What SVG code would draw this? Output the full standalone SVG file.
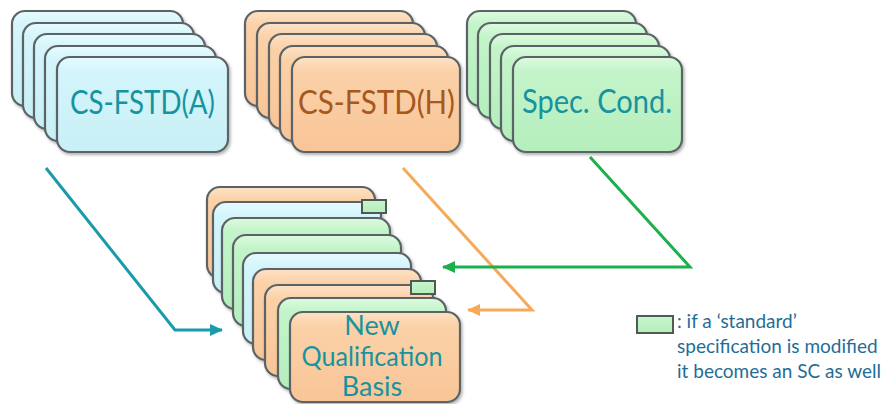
<svg xmlns="http://www.w3.org/2000/svg" width="887" height="404" viewBox="0 0 887 404">
<defs>
  <linearGradient id="gBlue" x1="0" y1="0" x2="0" y2="1">
    <stop offset="0" stop-color="#e6fbfe"/><stop offset="0.15" stop-color="#d3f5fb"/><stop offset="1" stop-color="#c8f0f6"/>
  </linearGradient>
  <linearGradient id="gOrange" x1="0" y1="0" x2="0" y2="1">
    <stop offset="0" stop-color="#fde2c6"/><stop offset="0.15" stop-color="#fbd1a8"/><stop offset="1" stop-color="#f8c597"/>
  </linearGradient>
  <linearGradient id="gGreen" x1="0" y1="0" x2="0" y2="1">
    <stop offset="0" stop-color="#dcfbe0"/><stop offset="0.15" stop-color="#c3f4c9"/><stop offset="1" stop-color="#b5eebd"/>
  </linearGradient>
  <filter id="sh" x="-10%" y="-10%" width="125%" height="130%">
    <feDropShadow dx="1.5" dy="2" stdDeviation="1.5" flood-color="#000" flood-opacity="0.3"/>
  </filter>
  <marker id="aTeal" markerUnits="userSpaceOnUse" markerWidth="14" markerHeight="12" refX="12" refY="6" orient="auto">
    <path d="M0,0 L13,6 L0,12 Z" fill="#1a9aaa"/>
  </marker>
  <marker id="aOrange" markerUnits="userSpaceOnUse" markerWidth="14" markerHeight="12" refX="12" refY="6" orient="auto">
    <path d="M0,0 L13,6 L0,12 Z" fill="#f7a95a"/>
  </marker>
  <marker id="aGreen" markerUnits="userSpaceOnUse" markerWidth="14" markerHeight="12" refX="12" refY="6" orient="auto">
    <path d="M0,0 L13,6 L0,12 Z" fill="#1cb04c"/>
  </marker>
</defs>
<style>
  .card { stroke: #5b6466; stroke-width: 2.2; filter: url(#sh); }
  .b { fill: url(#gBlue); }
  .o { fill: url(#gOrange); }
  .g { fill: url(#gGreen); }
  .lbl { font-family: Lato, "Open Sans", "Liberation Sans", sans-serif; text-anchor: middle; }
  .teal { fill: #17939f; }
  .brown { fill: #a6581e; }
  .legend { font-family: Lato, "Open Sans", "Liberation Sans", sans-serif; font-size: 19px; fill: #1f6d96; }
  .conn { fill: none; stroke-width: 3; stroke-linejoin: miter; }
  .mini { fill: url(#gGreen); stroke: #4f5a55; stroke-width: 2; }
</style>

<g id="stack-cs-fstd-a">
  <rect class="card b" x="12" y="11" width="171" height="95" rx="13"/>
  <rect class="card b" x="23" y="23" width="171" height="95" rx="13"/>
  <rect class="card b" x="34" y="34" width="171" height="95" rx="13"/>
  <rect class="card b" x="45" y="46" width="171" height="95" rx="13"/>
  <rect class="card b" x="57" y="57" width="171" height="95" rx="13"/>
  <text class="lbl teal" x="142.5" y="114" font-size="32" textLength="145" lengthAdjust="spacingAndGlyphs">CS-FSTD(A)</text>
</g>

<g id="stack-cs-fstd-h">
  <rect class="card o" x="245" y="11" width="168" height="95" rx="13"/>
  <rect class="card o" x="257" y="23" width="168" height="95" rx="13"/>
  <rect class="card o" x="269" y="34" width="168" height="95" rx="13"/>
  <rect class="card o" x="280" y="46" width="168" height="95" rx="13"/>
  <rect class="card o" x="292" y="57" width="168" height="95" rx="13"/>
  <text class="lbl brown" x="376.5" y="114" font-size="32" textLength="157" lengthAdjust="spacingAndGlyphs">CS-FSTD(H)</text>
</g>

<g id="stack-spec-cond">
  <rect class="card g" x="467" y="11" width="169" height="95" rx="13"/>
  <rect class="card g" x="478" y="23" width="169" height="95" rx="13"/>
  <rect class="card g" x="490" y="34" width="169" height="95" rx="13"/>
  <rect class="card g" x="501" y="46" width="169" height="95" rx="13"/>
  <rect class="card g" x="513" y="57" width="169" height="95" rx="13"/>
  <text class="lbl teal" x="597" y="113" font-size="32" textLength="150" lengthAdjust="spacingAndGlyphs">Spec. Cond.</text>
</g>

<g id="stack-new-qualification-basis">
  <rect class="card o" x="207" y="187" width="168" height="91" rx="13"/>
  <rect class="card b" x="213" y="202" width="168" height="91" rx="13"/>
  <rect class="mini" x="362" y="200" width="24" height="13"/>
  <rect class="card g" x="222" y="218" width="168" height="91" rx="13"/>
  <rect class="card g" x="233" y="235" width="168" height="91" rx="13"/>
  <rect class="card b" x="243" y="253" width="168" height="91" rx="13"/>
  <rect class="card o" x="253" y="269" width="168" height="91" rx="13"/>
  <rect class="card o" x="265" y="285" width="168" height="91" rx="13"/>
  <rect class="mini" x="411" y="281" width="24" height="13"/>
  <rect class="card g" x="278" y="298" width="168" height="91" rx="13"/>
  <rect class="card o" x="290" y="312" width="170" height="90" rx="13"/>
  <text class="lbl teal" x="372" y="335" font-size="27">New</text>
  <text class="lbl teal" x="372" y="366" font-size="27" textLength="141" lengthAdjust="spacingAndGlyphs">Qualification</text>
  <text class="lbl teal" x="372" y="396" font-size="27">Basis</text>
</g>

<g id="connectors">
  <path class="conn" stroke="#1a9aaa" d="M46,168 L175,330 L222,330" marker-end="url(#aTeal)"/>
  <path class="conn" stroke="#f7a95a" d="M403,168 L532,310 L468,310" marker-end="url(#aOrange)"/>
  <path class="conn" stroke="#1cb04c" d="M590,157 L690,267 L443,267" marker-end="url(#aGreen)"/>
</g>

<g id="legend">
  <rect class="mini" x="637" y="316" width="36" height="17"/>
  <text class="legend" x="677" y="328">: if a ‘standard’</text>
  <text class="legend" x="677" y="353">specification is modified</text>
  <text class="legend" x="677" y="378">it becomes an SC as well</text>
</g>
</svg>
